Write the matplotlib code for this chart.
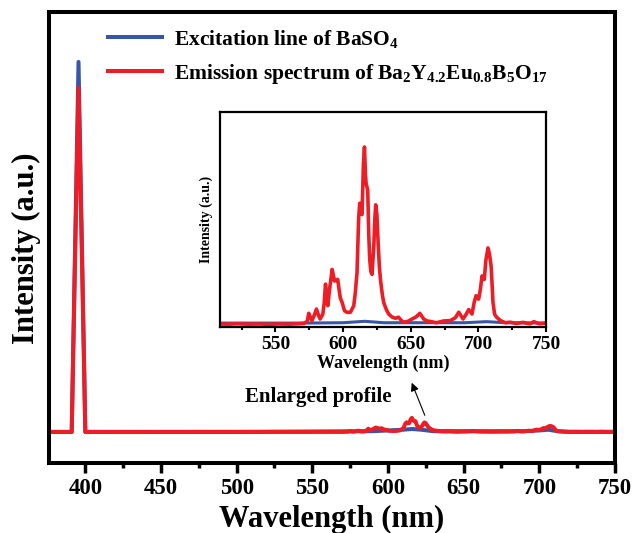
import numpy as np
import matplotlib.pyplot as plt
from matplotlib.ticker import MultipleLocator

plt.rcParams['font.family'] = 'Liberation Serif'
plt.rcParams['font.weight'] = 'bold'
plt.rcParams['mathtext.fontset'] = 'custom'
plt.rcParams['mathtext.rm'] = 'Liberation Serif:bold'
plt.rcParams['mathtext.it'] = 'Liberation Serif:bold'
plt.rcParams['mathtext.bf'] = 'Liberation Serif:bold'
plt.rcParams['mathtext.default'] = 'rm'

# excitation line of BaSO4 (main panel, peak normalised to 1)
exc_x = [376, 389, 391, 393, 395.5, 398, 400, 402, 508, 590, 600, 610, 616, 622, 630, 690, 700, 706, 712, 720, 750]
exc_y = [0, 0, 0.0, 0.45, 1.0, 0.45, 0.0, 0, 0, 0.002, 0.004, 0.006, 0.008, 0.006, 0.002, 0.002, 0.004, 0.006, 0.002, 0, 0]

# emission spectrum around the 395 nm line (main panel)
em_peak_x = [376, 389, 391, 393, 395.5, 398, 400, 402]
em_peak_y = [0, 0, 0.0, 0.42, 0.93, 0.42, 0.0, 0]

# enlarged emission profile (inset, peak normalised to 1)
prof_x = [509, 515, 522, 530, 538, 545, 552, 560, 566, 571, 573.5, 574.6, 576, 577, 579, 580.3, 582, 583,
          585, 586, 587, 588, 588.7, 590, 591.9, 592.8, 593.6, 595, 596, 597, 598, 599.3, 601, 603,
          605.4, 607.9, 609, 610.3, 611.5, 612.3, 613, 614, 615, 615.8, 616.5, 617, 618.2, 619,
          619.7, 620.5, 621.4, 622.7, 623.5, 624.1, 625, 625.9, 626.8, 627.6, 629, 630, 632, 633.7,
          636, 638.7, 641, 643, 644.8, 648, 651, 654, 656.7, 659.6, 662, 664.5, 669, 674.4, 679.3,
          683, 685.5, 688.7, 691, 692.9, 695.3, 696, 697, 698.3, 699, 700.2, 701.5, 702.7, 703.5, 704.4,
          705.5, 707.1, 708.2, 709.4, 710.2, 710.8, 712, 713.5, 716.3, 720, 723.6, 728, 733, 738,
          741, 745, 750]
prof_y = [0.005, 0.004, 0.006, 0.004, 0.005, 0.003, 0.005, 0.004, 0.006, 0.008, 0.02, 0.065, 0.04, 0.024,
          0.06, 0.089, 0.05, 0.033, 0.06, 0.12, 0.229, 0.15, 0.108, 0.2, 0.312, 0.28, 0.247, 0.25,
          0.256, 0.2, 0.15, 0.126, 0.08, 0.07, 0.071, 0.108, 0.18, 0.294, 0.6, 0.684, 0.63, 0.62,
          0.9, 1.0, 0.85, 0.796, 0.758, 0.5, 0.368, 0.3, 0.284, 0.442, 0.6, 0.675, 0.62, 0.461,
          0.33, 0.256, 0.17, 0.126, 0.085, 0.061, 0.045, 0.037, 0.043, 0.025, 0.015, 0.02, 0.033,
          0.045, 0.065, 0.033, 0.022, 0.019, 0.012, 0.022, 0.024, 0.04, 0.071, 0.033, 0.06, 0.086,
          0.061, 0.09, 0.13, 0.164, 0.15, 0.145, 0.2, 0.275, 0.26, 0.256, 0.36, 0.433, 0.4, 0.331,
          0.22, 0.126, 0.06, 0.043, 0.024, 0.012, 0.015, 0.008, 0.014, 0.006, 0.018, 0.006, 0.01]
base_x = [509, 570, 600, 616, 630, 690, 706, 720, 750]
base_y = [0.01, 0.01, 0.012, 0.02, 0.012, 0.012, 0.018, 0.012, 0.01]
main_scale = 0.038

blue = '#3a55a6'
red = '#ee1d25'

fig = plt.figure(figsize=(6.34, 5.33), dpi=100)
ax = fig.add_axes([0.0773, 0.1313, 0.8927, 0.8462])

ax.plot(exc_x, exc_y, color=blue, lw=2.9, label=r'Excitation line of BaSO$_4$')
em_x = em_peak_x + prof_x
em_y = em_peak_y + [v * main_scale for v in prof_y]
ax.plot(em_x, em_y, color=red, lw=2.9,
        label=r'Emission spectrum of Ba$_2$Y$_{4.2}$Eu$_{0.8}$B$_5$O$_{17}$')

ax.set_xlim(376, 750)
ax.set_ylim(-0.084, 1.135)
ax.set_yticks([])
ax.xaxis.set_major_locator(MultipleLocator(50))
ax.xaxis.set_minor_locator(MultipleLocator(25))
ax.tick_params(axis='x', which='major', direction='out', length=7, width=2.5, labelsize=16.5, pad=4)
ax.tick_params(axis='x', which='minor', direction='out', length=3.5, width=2.5)
for s in ax.spines.values():
    s.set_linewidth(2.9)
for lab in ax.get_xticklabels():
    lab.set_fontweight('bold')
ax.set_xlabel('Wavelength (nm)', fontsize=22, fontweight='bold', labelpad=4)
ax.set_ylabel('Intensity (a.u.)', fontsize=22, fontweight='bold')
ax.yaxis.set_label_coords(-0.014, 0.477)

ax.legend(loc='upper left', bbox_to_anchor=(108 / 634, 1 - 28 / 533), bbox_transform=fig.transFigure,
          frameon=False, handlelength=2.5, handletextpad=0.55, borderpad=0,
          borderaxespad=0, labelspacing=0.55, prop={'weight': 'bold', 'size': 15.5})

ax.annotate('', xy=(615, 0.14), xytext=(625, 0.038),
            arrowprops=dict(arrowstyle='-|>', color='black', lw=0.8, mutation_scale=12))
ax.text(554, 0.095, 'Enlarged profile', fontsize=15, fontweight='bold', ha='center', va='center')

ins = fig.add_axes([0.347, 0.3865, 0.5142, 0.4034])
ins.plot(base_x, base_y, color=blue, lw=2.2)
ins.plot(prof_x, prof_y, color=red, lw=2.6)
ins.set_xlim(509, 750)
ins.set_ylim(-0.012, 1.197)
ins.set_yticks([])
ins.xaxis.set_major_locator(MultipleLocator(50))
ins.xaxis.set_minor_locator(MultipleLocator(25))
ins.tick_params(axis='x', which='major', direction='out', length=3.5, width=1.5, labelsize=14, pad=3)
ins.tick_params(axis='x', which='minor', direction='out', length=2.5, width=1.5)
for s in ins.spines.values():
    s.set_linewidth(1.6)
ins.set_xlabel('Wavelength (nm)', fontsize=13, fontweight='bold', labelpad=1)
ins.set_ylabel('Intensity (a.u.)', fontsize=10, fontweight='bold', labelpad=5)

fig.savefig('out.png', dpi=100)
